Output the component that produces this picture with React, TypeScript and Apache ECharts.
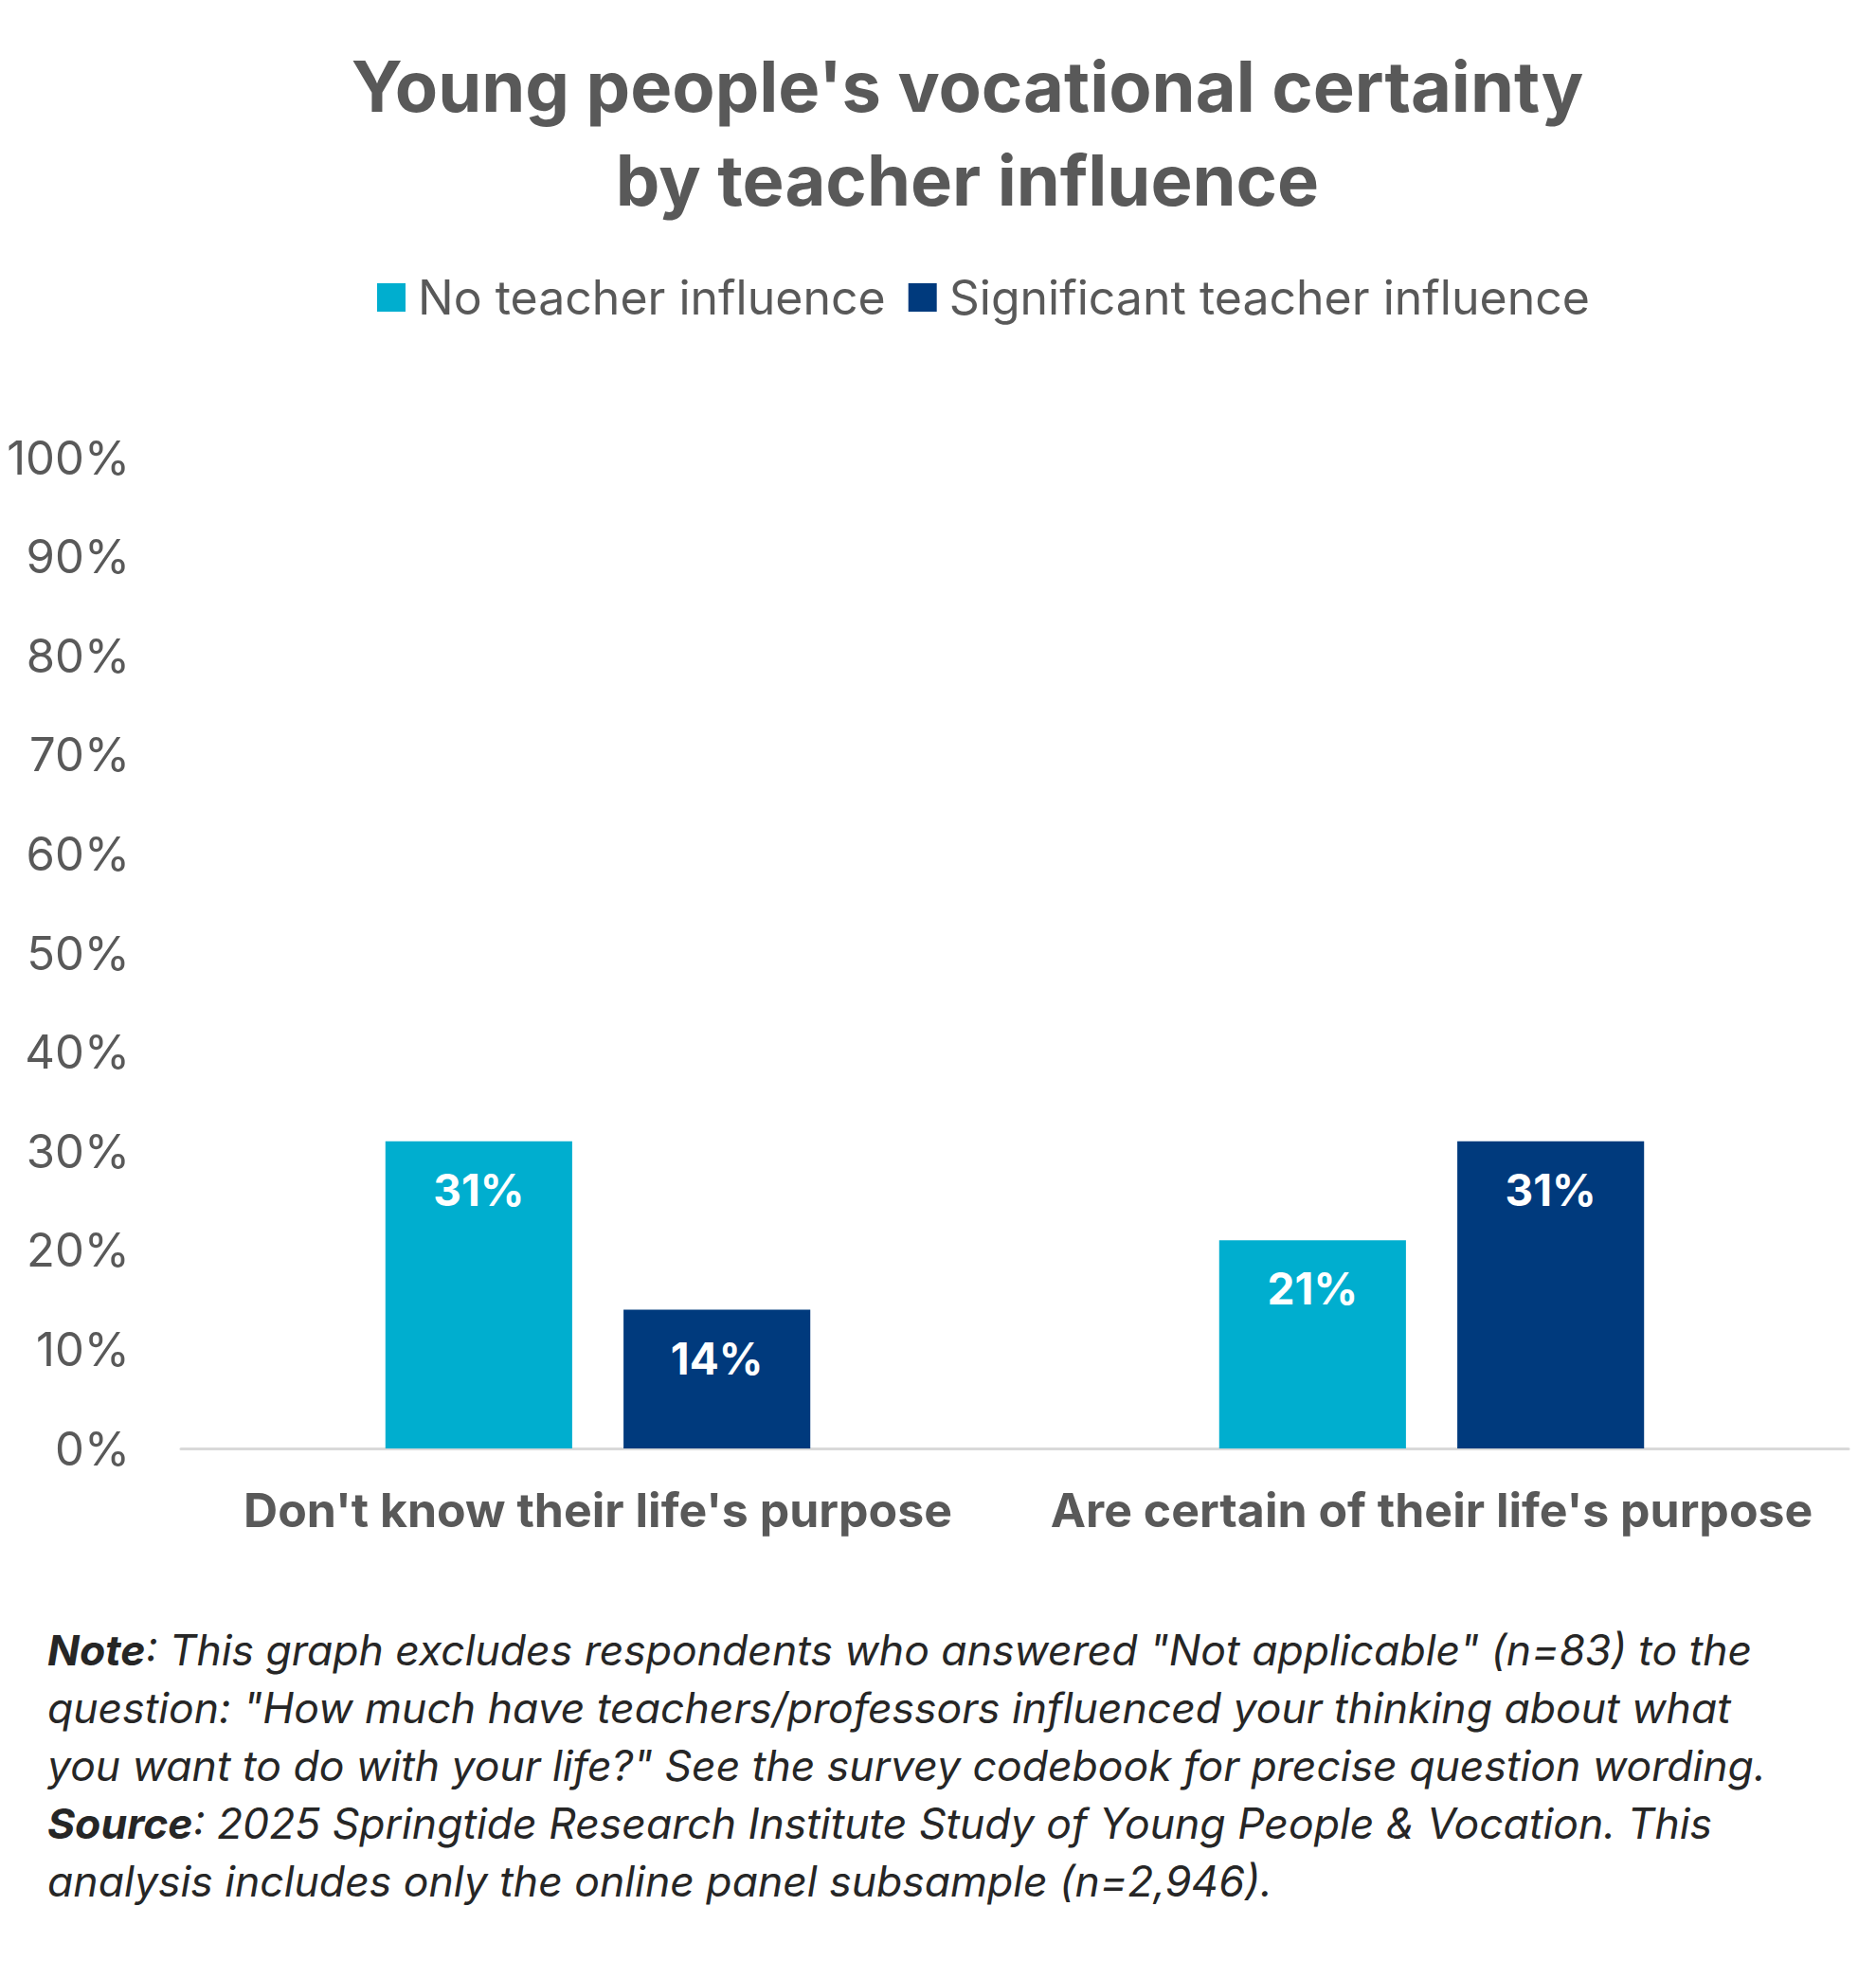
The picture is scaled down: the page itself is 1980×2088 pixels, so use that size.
import React, { useEffect, useRef } from "react";
import * as echarts from "echarts";

const categories = ["Don't know their life's purpose", "Are certain of their life's purpose"];
const seriesNames = ["No teacher influence", "Significant teacher influence"];
const noTeacher = [31, 21];
const significantTeacher = [14, 31];
const seriesColors = ["#00AECF", "#003A7D"];
const yTicks = [0, 10, 20, 30, 40, 50, 60, 70, 80, 90, 100];
const titleText = "Young people's vocational certainty\nby teacher influence";
const noteLines = [
  ["Note", ": This graph excludes respondents who answered \"Not applicable\" (n=83) to the"],
  ["", "question: \"How much have teachers/professors influenced your thinking about what"],
  ["", "you want to do with your life?\" See the survey codebook for precise question wording."],
  ["Source", ": 2025 Springtide Research Institute Study of Young People & Vocation. This"],
  ["", "analysis includes only the online panel subsample (n=2,946)."],
];

const FONT = "Inter, 'Noto Sans', sans-serif";
const GRAY = "#595959";

export default function App() {
  const ref = useRef<HTMLDivElement>(null);
  useEffect(() => {
    document.body.style.margin = "0";
    const chart = echarts.init(ref.current!, null, { renderer: "svg" });
    const noteGraphics = noteLines.map((l, i) => ({
      type: "text",
      left: 50,
      top: 1719 + i * 61,
      style: {
        text: (l[0] ? `{b|${l[0]}}` : "") + `{i|${l[1]}}`,
        rich: {
          b: { fontFamily: FONT, fontSize: 44.5, fontWeight: "bold", fontStyle: "italic", fill: "#262626" },
          i: { fontFamily: FONT, fontSize: 44.5, fontStyle: "italic", fill: "#262626" },
        },
      },
    }));
    chart.setOption({
      animation: false,
      backgroundColor: "#ffffff",
      title: {
        text: titleText,
        left: 1016,
        textAlign: "center",
        top: 36,
        textStyle: {
          fontFamily: FONT,
          fontSize: 74,
          fontWeight: "bold",
          color: GRAY,
          lineHeight: 99,
        },
      },
      legend: {
        top: 284,
        left: 393,
        itemWidth: 30,
        itemHeight: 30,
        itemGap: 24,
        icon: "rect",
        textStyle: { fontFamily: FONT, fontSize: 50, color: GRAY, padding: [0, 0, 0, 8] },
        data: seriesNames,
      },
      grid: { left: 191, right: 29, top: 483, bottom: 559, containLabel: false },
      xAxis: {
        type: "category",
        data: categories,
        axisLine: { lineStyle: { color: "#D9D9D9", width: 3 } },
        axisTick: { show: false },
        axisLabel: {
          fontFamily: FONT,
          fontSize: 50,
          fontWeight: "bold",
          color: GRAY,
          margin: 40,
          interval: 0,
        },
      },
      yAxis: {
        type: "value",
        min: yTicks[0],
        max: yTicks[yTicks.length - 1],
        interval: 10,
        splitLine: { show: false },
        axisLine: { show: false },
        axisTick: { show: false },
        axisLabel: {
          fontFamily: FONT,
          fontSize: 49,
          color: GRAY,
          margin: 54,
          formatter: (v: number) => `${v}%`,
        },
      },
      series: [
        {
          name: seriesNames[0],
          type: "bar",
          data: noTeacher,
          barWidth: "22.4%",
          barGap: "27.5%",
          itemStyle: { color: seriesColors[0] },
          label: {
            show: true,
            position: "insideTop",
            distance: 28,
            formatter: "{c}%",
            fontFamily: FONT,
            fontSize: 46,
            fontWeight: "bold",
            color: "#ffffff",
          },
        },
        {
          name: seriesNames[1],
          type: "bar",
          data: significantTeacher,
          barWidth: "22.4%",
          barGap: "27.5%",
          itemStyle: { color: seriesColors[1] },
          label: {
            show: true,
            position: "insideTop",
            distance: 28,
            formatter: "{c}%",
            fontFamily: FONT,
            fontSize: 46,
            fontWeight: "bold",
            color: "#ffffff",
          },
        },
      ],
      graphic: noteGraphics,
    });
    return () => chart.dispose();
  }, []);
  return <div ref={ref} style={{ width: 1980, height: 2088 }} />;
}
